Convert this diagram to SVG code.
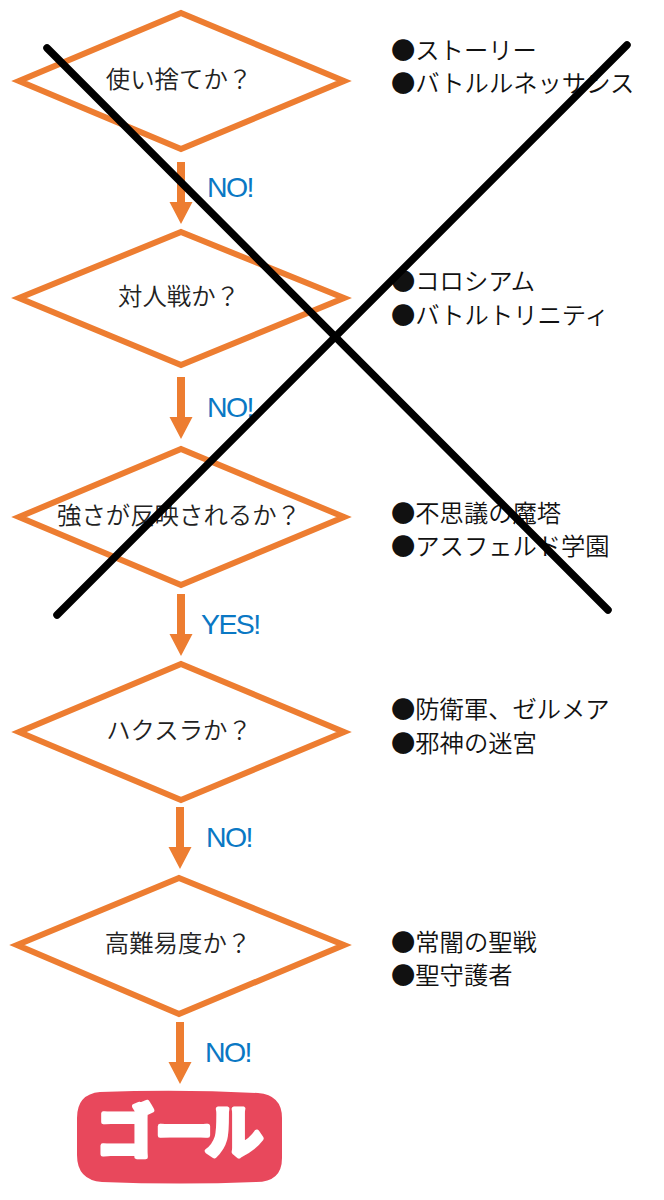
<svg xmlns="http://www.w3.org/2000/svg" width="664" height="1200" viewBox="0 0 664 1200">
<style>
.d{fill:#fff;stroke:#ed7d31;stroke-width:6}
.t{font-family:"Noto Sans CJK JP",sans-serif;font-size:24.4px;font-weight:350;fill:#222;text-anchor:middle}
.l{font-family:"Noto Sans CJK JP",sans-serif;font-size:24.3px;font-weight:350;fill:#111}
.y{font-family:"Liberation Sans",sans-serif;font-size:28.5px;fill:#0a78c4;letter-spacing:-1.6px}
.a{fill:#ed7d31}
.x{stroke:#000;stroke-width:7.5;stroke-linecap:round}
</style>
<defs><path id="ar" class="a" d="M-4 0H4V40H11.5L0 62L-11.5 40H-4Z"/></defs>
<rect width="664" height="1200" fill="#fff"/>
<g id="connectors">
<use href="#ar" x="181" y="162"/>
<use href="#ar" x="181" y="377"/>
<use href="#ar" x="181" y="594"/>
<use href="#ar" x="180" y="807"/>
<use href="#ar" x="180" y="1022"/>
</g>
<g id="n1"><polygon class="d" points="181,13 344,81 181,149 19,81"/><text class="t" x="179" y="88">使い捨てか？</text></g>
<g id="n2"><polygon class="d" points="181,232 344,298 181,365 19,298"/><text class="t" x="179" y="305">対人戦か？</text></g>
<g id="n3"><polygon class="d" points="181,449 344,517 181,585 19,517"/><text class="t" x="179" y="524">強さが反映されるか？</text></g>
<g id="n4"><polygon class="d" points="181,664 344,732 181,800 19,732"/><text class="t" x="179" y="739">ハクスラか？</text></g>
<g id="n5"><polygon class="d" points="179,878 344,945 179,1014 17,945"/><text class="t" x="178" y="952">高難易度か？</text></g>
<g id="labels">
<text class="y" x="207" y="197">NO!</text>
<text class="y" x="207" y="417">NO!</text>
<text class="y" x="201" y="634">YES!</text>
<text class="y" x="206" y="847">NO!</text>
<text class="y" x="205" y="1062">NO!</text>
</g>
<g id="notes">
<text class="l" x="391" y="59">●ストーリー</text>
<text class="l" x="391" y="92">●バトルルネッサンス</text>
<text class="l" x="391" y="290">●コロシアム</text>
<text class="l" x="391" y="324">●バトルトリニティ</text>
<text class="l" x="391" y="522">●不思議の魔塔</text>
<text class="l" x="391" y="555">●アスフェルド学園</text>
<text class="l" x="391" y="718">●防衛軍、ゼルメア</text>
<text class="l" x="391" y="752">●邪神の迷宮</text>
<text class="l" x="391" y="951">●常闇の聖戦</text>
<text class="l" x="391" y="984">●聖守護者</text>
</g>
<g id="cross">
<line class="x" x1="47" y1="48" x2="608" y2="610"/>
<line class="x" x1="627" y1="45" x2="57" y2="615"/>
</g>
<g id="goal">
<path d="M100 1092Q180 1089 258 1093Q282 1095 282 1118V1158Q282 1182 256 1182Q180 1185 102 1182Q77 1180 77 1155V1118Q77 1094 100 1092Z" fill="#e8485c"/>
<text y="1153" font-family="Noto Sans CJK JP,sans-serif" font-weight="700" font-size="58" fill="#fff" stroke="#fff" stroke-width="5" stroke-linejoin="round" stroke-linecap="round" x="96 155 205">ゴール</text>
</g>
</svg>
